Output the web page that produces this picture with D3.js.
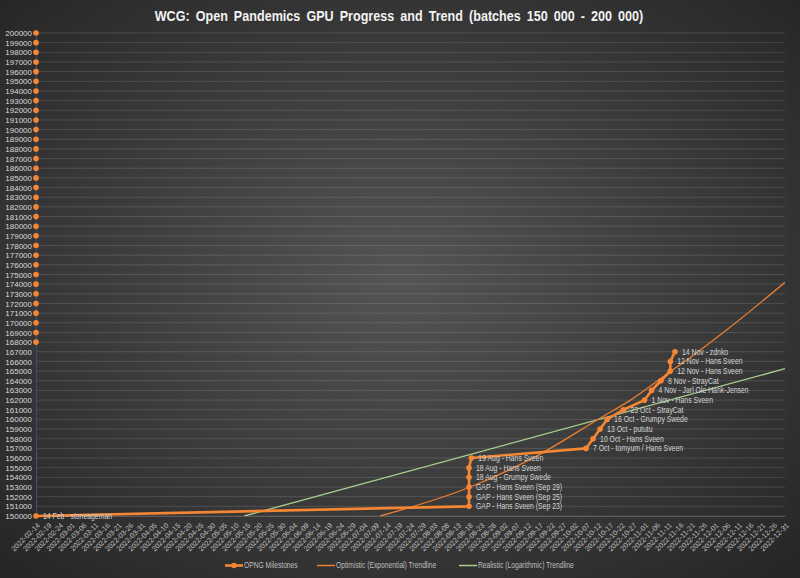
<!DOCTYPE html>
<html lang="en">

<head>
  <meta charset="UTF-8">
  <title>WCG Open Pandemics GPU Progress</title>
  <style>
    body { margin: 0; background: #2b2b2b; }
    svg { display: block; }
  </style>
</head>

<body>
  <script src="https://cdnjs.cloudflare.com/ajax/libs/d3/7.8.5/d3.min.js"></script>
  <script>

    // milestone dates, batch numbers and data labels
    let milestoneDates = ['2022-02-14', '2022-08-18', '2022-08-18', '2022-08-18', '2022-08-18', '2022-08-18',
      '2022-08-19', '2022-10-07', '2022-10-10', '2022-10-13', '2022-10-16', '2022-10-23', '2022-11-01',
      '2022-11-04', '2022-11-08', '2022-11-12', '2022-11-12', '2022-11-14']
    let milestoneBatches = [150000, 151000, 152000, 153000, 154000, 155000, 156000, 157000, 158000, 159000,
      160000, 161000, 162000, 163000, 164000, 165000, 166000, 167000]
    let milestoneLabels = ['14 Feb - stoneageman', 'GAP - Hans Sveen (Sep 23)', 'GAP - Hans Sveen (Sep 25)',
      'GAP - Hans Sveen (Sep 29)', '18 Aug - Grumpy Swede', '18 Aug - Hans Sveen', '19 Aug - Hans Sveen',
      '7 Oct - tomyum / Hans Sveen', '10 Oct - Hans Sveen', '13 Oct - pututu', '16 Oct - Grumpy Swede',
      '23 Oct - StrayCat', '1 Nov - Hans Sveen', '4 Nov - Jarl Ole Hank-Jensen', '8 Nov - StrayCat',
      '12 Nov - Hans Sveen', '12 Nov - Hans Sveen', '14 Nov - zdnko']

    // batches not reached yet (no date, drawn on the axis)
    let openBatches = [168000, 169000, 170000, 171000, 172000, 173000, 174000, 175000, 176000, 177000,
      178000, 179000, 180000, 181000, 182000, 183000, 184000, 185000, 186000, 187000, 188000, 189000,
      190000, 191000, 192000, 193000, 194000, 195000, 196000, 197000, 198000, 199000, 200000]

    // trendlines
    let expDates = ['2022-07-11', '2022-08-18', '2022-09-18', '2022-10-14', '2022-10-26', '2022-11-11',
      '2022-11-21', '2022-12-06', '2022-12-31']
    let expValues = [150000, 152950, 156490, 160280, 162000, 164770, 166490, 169250, 174190]
    let logDates = ['2022-05-14', '2022-12-31']
    let logValues = [150000, 165250]

    // x tick labels
    let xTickLabels = ['2022-02-14', '2022-02-19', '2022-02-24', '2022-03-01', '2022-03-06', '2022-03-11',
      '2022-03-16', '2022-03-21', '2022-03-26', '2022-03-31', '2022-04-05', '2022-04-10', '2022-04-15',
      '2022-04-20', '2022-04-25', '2022-04-30', '2022-05-05', '2022-05-10', '2022-05-15', '2022-05-20',
      '2022-05-25', '2022-05-30', '2022-06-04', '2022-06-09', '2022-06-14', '2022-06-19', '2022-06-24',
      '2022-06-29', '2022-07-04', '2022-07-09', '2022-07-14', '2022-07-19', '2022-07-24', '2022-07-29',
      '2022-08-03', '2022-08-08', '2022-08-13', '2022-08-18', '2022-08-23', '2022-08-28', '2022-09-02',
      '2022-09-07', '2022-09-12', '2022-09-17', '2022-09-22', '2022-09-27', '2022-10-02', '2022-10-07',
      '2022-10-12', '2022-10-17', '2022-10-22', '2022-10-27', '2022-11-01', '2022-11-06', '2022-11-11',
      '2022-11-16', '2022-11-21', '2022-11-26', '2022-12-01', '2022-12-06', '2022-12-11', '2022-12-16',
      '2022-12-21', '2022-12-26', '2022-12-31']

    let seriesNames = ['OPNG Milestones', 'Optimistic (Exponential) Trendline', 'Realistic (Logarithmic) Trendline']

    let width = 800
    let height = 578
    let padding = { left: 36, right: 15, top: 33, bottom: 62 }
    let font = '"Liberation Sans", Arial, sans-serif'
    let narrow = 0.8 // squeeze text horizontally, the original font is narrow
    let orange = '#f58634'

    let parse = d3.utcParse('%Y-%m-%d')

    let svg = d3.select('body')
      .append('svg')
      .attr('width', width)
      .attr('height', height)

    // background
    let defs = svg.append('defs')
    let grad = defs.append('radialGradient')
      .attr('id', 'bg')
      .attr('cx', '50%').attr('cy', '48%').attr('r', '70%')
    grad.append('stop').attr('offset', '0%').attr('stop-color', '#545454')
    grad.append('stop').attr('offset', '100%').attr('stop-color', '#262626')
    svg.append('rect')
      .attr('width', width)
      .attr('height', height)
      .attr('fill', 'url(#bg)')

    defs.append('clipPath').attr('id', 'plot')
      .append('rect')
      .attr('x', padding.left)
      .attr('y', padding.top)
      .attr('width', width - padding.left - padding.right)
      .attr('height', height - padding.top - padding.bottom)

    let xScale = d3.scaleUtc()
      .domain([parse(xTickLabels[0]), parse(xTickLabels[xTickLabels.length - 1])])
      .range([padding.left, width - padding.right])

    let yScale = d3.scaleLinear()
      .domain([150000, 200000])
      .range([height - padding.bottom, padding.top])

    // title
    svg.append('g')
      .attr('transform', `translate(399,21) scale(0.84,1)`)
      .append('text')
      .attr('text-anchor', 'middle')
      .attr('fill', '#f2f2f2')
      .attr('font-family', font)
      .attr('font-weight', 'bold')
      .attr('font-size', 15)
      .attr('word-spacing', 3)
      .text('WCG: Open Pandemics GPU Progress and Trend (batches 150 000 - 200 000)')

    // horizontal gridlines
    svg.append('g')
      .selectAll('line')
      .data(yScale.ticks(50))
      .enter()
      .append('line')
      .attr('x1', padding.left)
      .attr('x2', width - padding.right)
      .attr('y1', d => yScale(d))
      .attr('y2', d => yScale(d))
      .attr('stroke', 'rgba(255,255,255,0.13)')
      .attr('stroke-width', 1)

    // y axis
    let yAxis = d3.axisLeft(yScale)
      .ticks(50)
      .tickFormat(d3.format('d'))
      .tickSize(0)
      .tickPadding(4)
    let yG = svg.append('g')
      .attr('transform', `translate(${padding.left},0)`)
      .call(yAxis)
    yG.select('.domain').attr('stroke', '#3c4d73').attr('stroke-width', 1.2)
    yG.selectAll('text')
      .attr('fill', '#d9d9d9')
      .attr('font-family', font)
      .attr('font-size', 8)

    // x axis
    let xAxis = d3.axisBottom(xScale)
      .tickValues(xTickLabels.map(parse))
      .tickFormat(d3.utcFormat('%Y-%m-%d'))
      .tickSize(0)
    let xG = svg.append('g')
      .attr('transform', `translate(0,${height - padding.bottom})`)
      .call(xAxis)
    xG.select('.domain').attr('stroke', 'rgba(255,255,255,0.15)')
    xG.selectAll('text')
      .attr('fill', '#bfbfbf')
      .attr('font-family', font)
      .attr('font-size', 7.2)
      .attr('text-anchor', 'end')
      .attr('dy', '0.35em')
      .attr('y', 0)
      .attr('transform', 'translate(2,8) rotate(-45)')

    let line = d3.line()
      .x(d => xScale(d[0]))
      .y(d => yScale(d[1]))

    let plot = svg.append('g').attr('clip-path', 'url(#plot)')

    // trendlines
    plot.append('path')
      .datum(logDates.map((d, i) => [parse(d), logValues[i]]))
      .attr('d', line)
      .attr('fill', 'none')
      .attr('stroke', '#a9d18e')
      .attr('stroke-width', 1.3)

    plot.append('path')
      .datum(expDates.map((d, i) => [parse(d), expValues[i]]))
      .attr('d', line.curve(d3.curveMonotoneX))
      .attr('fill', 'none')
      .attr('stroke', '#ed7d31')
      .attr('stroke-width', 1.3)
    line.curve(d3.curveLinear)

    // milestones
    let milestones = milestoneDates.map((d, i) => [parse(d), milestoneBatches[i], milestoneLabels[i]])

    svg.append('path')
      .datum(milestones)
      .attr('d', line)
      .attr('fill', 'none')
      .attr('stroke', orange)
      .attr('stroke-width', 2.6)
      .attr('stroke-linejoin', 'round')

    svg.selectAll('.dot')
      .data(milestones)
      .enter()
      .append('circle')
      .attr('class', 'dot')
      .attr('cx', d => xScale(d[0]))
      .attr('cy', d => yScale(d[1]))
      .attr('r', 2.8)
      .attr('fill', orange)

    svg.selectAll('.open')
      .data(openBatches)
      .enter()
      .append('circle')
      .attr('class', 'open')
      .attr('cx', xScale.range()[0])
      .attr('cy', d => yScale(d))
      .attr('r', 2.8)
      .attr('fill', orange)

    svg.selectAll('.lbl')
      .data(milestones)
      .enter()
      .append('g')
      .attr('class', 'lbl')
      .attr('transform', d => `translate(${xScale(d[0]) + 7},${yScale(d[1])}) scale(${narrow},1)`)
      .append('text')
      .attr('dy', '0.35em')
      .attr('fill', '#d4d4d4')
      .attr('font-family', font)
      .attr('font-size', 8.6)
      .text(d => d[2])

    // legend
    let legendX = [225, 317, 459]
    let legend = svg.selectAll('.legend')
      .data(seriesNames)
      .enter()
      .append('g')
      .attr('class', 'legend')
      .attr('transform', (d, i) => `translate(${legendX[i]},565.5)`)

    legend.append('line')
      .attr('x1', 0).attr('x2', 18)
      .attr('stroke', (d, i) => i == 2 ? '#a9d18e' : i == 1 ? '#ed7d31' : orange)
      .attr('stroke-width', (d, i) => i == 0 ? 2.6 : 1.5)
    legend.filter((d, i) => i == 0)
      .append('circle')
      .attr('cx', 9)
      .attr('r', 2.8)
      .attr('fill', orange)
    legend.append('g')
      .attr('transform', `translate(19,0) scale(${narrow},1)`)
      .append('text')
      .attr('dy', '0.35em')
      .attr('fill', '#bfbfbf')
      .attr('font-family', font)
      .attr('font-size', 8.4)
      .text(d => d)
  </script>
</body>

</html>
